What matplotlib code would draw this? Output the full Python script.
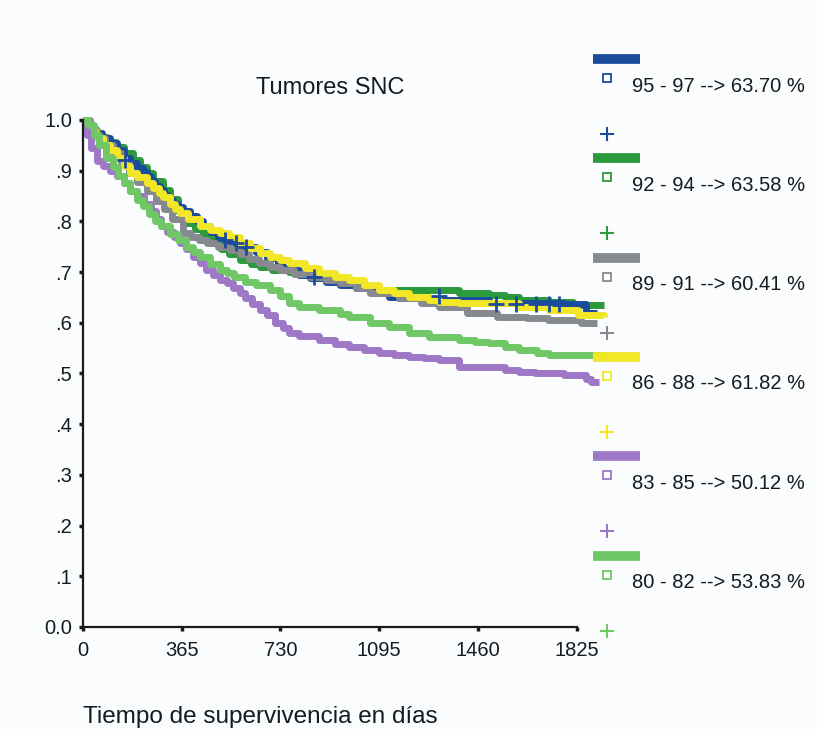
import numpy as np
import matplotlib
matplotlib.use('AGG')
import matplotlib.pyplot as plt

plt.rcParams['font.family'] = ['Liberation Sans', 'DejaVu Sans']

# grupos (de arriba a abajo en la leyenda)
grupos = ['95 - 97', '92 - 94', '89 - 91', '86 - 88', '83 - 85', '80 - 82']
superv_5a = ['63.70', '63.58', '60.41', '61.82', '50.12', '53.83']
colores = ['#1b4c9b', '#2a9a3c', '#86898d', '#f2e726', '#9e78c6', '#6fc766']

# curvas de Kaplan-Meier (días, supervivencia)
t_9597 = [0, 20, 45, 70, 100, 125, 150, 175, 200, 220, 236, 250, 268, 284, 300, 316, 332, 350,
          370, 395, 420, 445, 470, 500, 524, 560, 600, 640, 680, 720, 760, 800, 840, 900, 950,
          1010, 1060, 1133, 1170, 1280, 1390, 1501, 1650, 1780, 1860, 1900]
s_9597 = [1.0, 0.985, 0.975, 0.965, 0.955, 0.94, 0.925, 0.915, 0.905, 0.897, 0.89, 0.88, 0.87,
          0.862, 0.852, 0.842, 0.835, 0.828, 0.82, 0.81, 0.80, 0.79, 0.78, 0.77, 0.763, 0.757,
          0.75, 0.74, 0.727, 0.715, 0.705, 0.695, 0.688, 0.68, 0.675, 0.668, 0.66, 0.651, 0.649,
          0.645, 0.645, 0.639, 0.639, 0.637, 0.62, 0.62]

t_9294 = [0, 20, 40, 63, 90, 122, 150, 184, 210, 236, 260, 295, 320, 350, 383, 415, 445, 479,
          510, 540, 579, 620, 653, 700, 763, 820, 874, 930, 984, 1040, 1095, 1206, 1316, 1390,
          1501, 1560, 1611, 1722, 1810, 1925]
s_9294 = [1.0, 0.985, 0.975, 0.966, 0.957, 0.947, 0.935, 0.921, 0.908, 0.895, 0.88, 0.862,
          0.845, 0.82, 0.797, 0.785, 0.77, 0.757, 0.745, 0.735, 0.724, 0.716, 0.71, 0.705, 0.70,
          0.695, 0.69, 0.684, 0.678, 0.672, 0.665, 0.665, 0.665, 0.659, 0.655, 0.65, 0.645,
          0.641, 0.635, 0.635]

t_8991 = [0, 25, 50, 80, 110, 140, 170, 200, 235, 270, 300, 330, 369, 400, 430, 457, 500, 542,
          579, 615, 650, 690, 727, 780, 840, 900, 950, 1010, 1060, 1170, 1250, 1316, 1420, 1530,
          1640, 1720, 1840, 1900]
s_8991 = [1.0, 0.98, 0.965, 0.95, 0.935, 0.915, 0.895, 0.878, 0.86, 0.84, 0.825, 0.805, 0.777,
          0.77, 0.763, 0.757, 0.75, 0.744, 0.735, 0.725, 0.718, 0.71, 0.704, 0.697, 0.69, 0.684,
          0.678, 0.668, 0.659, 0.649, 0.64, 0.631, 0.619, 0.611, 0.609, 0.605, 0.60, 0.60]

t_8688 = [0, 20, 45, 75, 100, 125, 150, 173, 200, 236, 260, 280, 295, 320, 340, 358, 390, 431,
          470, 505, 540, 579, 616, 653, 690, 730, 763, 820, 874, 930, 984, 1040, 1095, 1150,
          1206, 1280, 1316, 1390, 1501, 1611, 1722, 1832, 1925]
s_8688 = [1.0, 0.98, 0.965, 0.95, 0.94, 0.925, 0.91, 0.895, 0.888, 0.876, 0.865, 0.857, 0.848,
          0.835, 0.825, 0.816, 0.805, 0.79, 0.783, 0.777, 0.77, 0.758, 0.748, 0.738, 0.73, 0.724,
          0.718, 0.708, 0.698, 0.69, 0.684, 0.675, 0.665, 0.658, 0.651, 0.645, 0.642, 0.639,
          0.639, 0.631, 0.625, 0.615, 0.611]

t_8385 = [0, 15, 30, 52, 75, 100, 125, 150, 175, 200, 225, 250, 270, 290, 310, 335, 358, 380,
          405, 431, 455, 480, 505, 531, 555, 579, 600, 625, 653, 680, 710, 740, 763, 800, 874,
          930, 984, 1040, 1095, 1150, 1206, 1260, 1316, 1390, 1450, 1501, 1560, 1611, 1670, 1722,
          1780, 1832, 1860, 1880, 1906]
s_8385 = [0.99, 0.97, 0.945, 0.92, 0.91, 0.90, 0.89, 0.875, 0.86, 0.85, 0.835, 0.82, 0.805,
          0.79, 0.78, 0.77, 0.757, 0.745, 0.73, 0.718, 0.705, 0.695, 0.685, 0.678, 0.668, 0.659,
          0.648, 0.638, 0.625, 0.615, 0.60, 0.59, 0.58, 0.574, 0.566, 0.558, 0.552, 0.546, 0.54,
          0.536, 0.533, 0.53, 0.527, 0.513, 0.513, 0.513, 0.507, 0.503, 0.501, 0.50, 0.498,
          0.497, 0.49, 0.483, 0.483]

t_8082 = [0, 20, 40, 60, 85, 110, 130, 150, 175, 200, 220, 245, 265, 290, 320, 350, 380, 405,
          431, 470, 505, 531, 560, 600, 640, 690, 730, 763, 800, 874, 950, 984, 1060, 1133, 1206,
          1280, 1316, 1390, 1450, 1501, 1560, 1611, 1680, 1722, 1800, 1925]
s_8082 = [1.0, 0.99, 0.97, 0.95, 0.925, 0.907, 0.89, 0.876, 0.86, 0.842, 0.83, 0.815, 0.80,
          0.79, 0.775, 0.763, 0.75, 0.74, 0.73, 0.715, 0.705, 0.698, 0.69, 0.68, 0.675, 0.665,
          0.652, 0.639, 0.632, 0.625, 0.618, 0.611, 0.60, 0.592, 0.58, 0.572, 0.572, 0.566,
          0.563, 0.56, 0.553, 0.546, 0.54, 0.536, 0.536, 0.536]

# casos censurados (solo los visibles del grupo 95-97)
cens_t = [155, 524, 564, 601, 855, 1316, 1526, 1600, 1674, 1722, 1759]
cens_s = [0.922, 0.763, 0.757, 0.75, 0.69, 0.653, 0.638, 0.638, 0.638, 0.638, 0.638]

curvas = [(t_9597, s_9597), (t_9294, s_9294), (t_8991, s_8991),
          (t_8688, s_8688), (t_8385, s_8385), (t_8082, s_8082)]

ticks_x = [0, 365, 730, 1095, 1460, 1825]
ticks_y = [0.0, 0.1, 0.2, 0.3, 0.4, 0.5, 0.6, 0.7, 0.8, 0.9, 1.0]
etiq_y = ['0.0', '.1', '.2', '.3', '.4', '.5', '.6', '.7', '.8', '.9', '1.0']

W, H = 817, 729
fondo = '#fbfcfe'
texto = '#141c20'
fig = plt.figure(figsize=(W / 100, H / 100), dpi=100, facecolor=fondo)
ax = fig.add_axes([83 / W, 1 - 627 / H, 522 / W, 507 / H])
ax.set_facecolor(fondo)

# orden de dibujo: 92-94 debajo, luego 95-97 y el resto encima
for i in [1, 0, 2, 3, 4, 5]:
    t, s = curvas[i]
    ax.plot(t, s, drawstyle='steps-post', color=colores[i], lw=5, clip_on=False,
            solid_capstyle='butt')
ax.plot(cens_t, cens_s, ls='none', marker='+', ms=12, mew=2, color=colores[0], clip_on=False)

ax.set_xlim(0, 1930)
ax.set_ylim(0, 1.0)
ax.set_xticks(ticks_x)
ax.set_yticks(ticks_y)
ax.set_yticklabels(etiq_y)
ax.tick_params(axis='both', length=3, width=2.5, color='#1a1a1a', labelsize=14.5,
               labelcolor=texto)
ax.tick_params(axis='x', pad=7)
ax.tick_params(axis='y', pad=5)
for lado in ['top', 'right']:
    ax.spines[lado].set_visible(False)
ax.spines['left'].set_bounds(0, 1.0)
ax.spines['bottom'].set_bounds(0, 1825)
for lado in ['left', 'bottom']:
    ax.spines[lado].set_linewidth(1.6)
    ax.spines[lado].set_color('#1a1a1a')

fig.text(330 / W, 1 - 88 / H, 'Tumores SNC', ha='center', va='center', fontsize=17,
         color=texto)
fig.text(83 / W, 1 - 717 / H, 'Tiempo de supervivencia en días', ha='left', va='center',
         fontsize=17.5, color=texto)

# leyenda al estilo SPSS
lg = fig.add_axes([0, 0, 1, 1], facecolor='none')
lg.set_xlim(0, W)
lg.set_ylim(H, 0)
lg.axis('off')
for k in range(len(grupos)):
    y0 = 59 + 99.3 * k
    lg.plot([593, 640], [y0, y0], color=colores[k], lw=7, solid_capstyle='butt')
    lg.plot([607], [y0 + 19], marker='s', ms=5.5, mfc='white', mec=colores[k], mew=1.3)
    lg.text(632, y0 + 27, grupos[k] + ' --> ' + superv_5a[k] + ' %', fontsize=14.5,
            va='center', ha='left', color=texto)
    lg.plot([607], [y0 + 75], marker='+', ms=10, mew=1.5, color=colores[k])

fig.savefig('out.png', dpi=100, facecolor=fondo)
